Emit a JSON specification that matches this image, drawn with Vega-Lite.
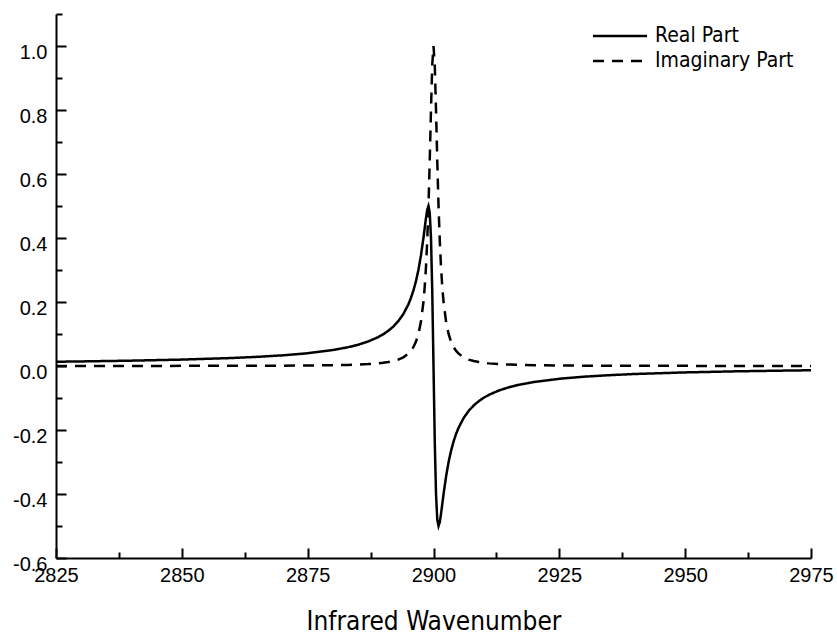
{
  "$schema": "https://vega.github.io/schema/vega-lite/v6.json",
  "width": 755,
  "height": 544,
  "autosize": {"type": "none"},
  "padding": {"left": 56, "top": 14, "right": 26, "bottom": 77},
  "background": "white",
  "config": {"view": {"stroke": null}},
  "data": {
    "values": [
      {"x": 2825, "re": 0.0133, "im": 0.0002},
      {"x": 2830, "re": 0.0143, "im": 0.0002},
      {"x": 2840, "re": 0.0167, "im": 0.0003},
      {"x": 2850, "re": 0.0200, "im": 0.0004},
      {"x": 2860, "re": 0.0250, "im": 0.0006},
      {"x": 2865, "re": 0.0286, "im": 0.0008},
      {"x": 2870, "re": 0.0333, "im": 0.0011},
      {"x": 2875, "re": 0.0399, "im": 0.0016},
      {"x": 2880, "re": 0.0499, "im": 0.0025},
      {"x": 2883, "re": 0.0586, "im": 0.0034},
      {"x": 2885, "re": 0.0664, "im": 0.0044},
      {"x": 2887, "re": 0.0765, "im": 0.0059},
      {"x": 2889, "re": 0.0902, "im": 0.0082},
      {"x": 2890, "re": 0.0990, "im": 0.0099},
      {"x": 2891, "re": 0.1098, "im": 0.0122},
      {"x": 2892, "re": 0.1231, "im": 0.0154},
      {"x": 2893, "re": 0.1400, "im": 0.0200},
      {"x": 2894, "re": 0.1622, "im": 0.0270},
      {"x": 2895, "re": 0.1923, "im": 0.0385},
      {"x": 2895.5, "re": 0.2118, "im": 0.0471},
      {"x": 2896, "re": 0.2353, "im": 0.0588},
      {"x": 2896.5, "re": 0.2642, "im": 0.0755},
      {"x": 2897, "re": 0.3000, "im": 0.1000},
      {"x": 2897.5, "re": 0.3448, "im": 0.1379},
      {"x": 2898, "re": 0.4000, "im": 0.2000},
      {"x": 2898.25, "re": 0.4308, "im": 0.2462},
      {"x": 2898.5, "re": 0.4615, "im": 0.3077},
      {"x": 2898.75, "re": 0.4878, "im": 0.3902},
      {"x": 2899, "re": 0.5000, "im": 0.5000},
      {"x": 2899.25, "re": 0.4800, "im": 0.6400},
      {"x": 2899.5, "re": 0.4000, "im": 0.8000},
      {"x": 2899.75, "re": 0.2353, "im": 0.9412},
      {"x": 2900, "re": 0.0, "im": 1.0},
      {"x": 2900.25, "re": -0.2353, "im": 0.9412},
      {"x": 2900.5, "re": -0.4000, "im": 0.8000},
      {"x": 2900.75, "re": -0.4800, "im": 0.6400},
      {"x": 2901, "re": -0.5000, "im": 0.5000},
      {"x": 2901.25, "re": -0.4878, "im": 0.3902},
      {"x": 2901.5, "re": -0.4615, "im": 0.3077},
      {"x": 2901.75, "re": -0.4308, "im": 0.2462},
      {"x": 2902, "re": -0.4000, "im": 0.2000},
      {"x": 2902.5, "re": -0.3448, "im": 0.1379},
      {"x": 2903, "re": -0.3000, "im": 0.1000},
      {"x": 2903.5, "re": -0.2642, "im": 0.0755},
      {"x": 2904, "re": -0.2353, "im": 0.0588},
      {"x": 2904.5, "re": -0.2118, "im": 0.0471},
      {"x": 2905, "re": -0.1923, "im": 0.0385},
      {"x": 2906, "re": -0.1622, "im": 0.0270},
      {"x": 2907, "re": -0.1400, "im": 0.0200},
      {"x": 2908, "re": -0.1231, "im": 0.0154},
      {"x": 2909, "re": -0.1098, "im": 0.0122},
      {"x": 2910, "re": -0.0990, "im": 0.0099},
      {"x": 2911, "re": -0.0902, "im": 0.0082},
      {"x": 2913, "re": -0.0765, "im": 0.0059},
      {"x": 2915, "re": -0.0664, "im": 0.0044},
      {"x": 2917, "re": -0.0586, "im": 0.0034},
      {"x": 2920, "re": -0.0499, "im": 0.0025},
      {"x": 2925, "re": -0.0399, "im": 0.0016},
      {"x": 2930, "re": -0.0333, "im": 0.0011},
      {"x": 2935, "re": -0.0286, "im": 0.0008},
      {"x": 2940, "re": -0.0250, "im": 0.0006},
      {"x": 2950, "re": -0.0200, "im": 0.0004},
      {"x": 2960, "re": -0.0167, "im": 0.0003},
      {"x": 2970, "re": -0.0143, "im": 0.0002},
      {"x": 2975, "re": -0.0133, "im": 0.0002}
    ]
  },
  "transform": [{"fold": ["re", "im"], "as": ["part", "value"]}],
  "mark": {"type": "line", "stroke": "black", "strokeWidth": 2.5, "interpolate": "linear", "clip": true},
  "encoding": {
    "x": {
      "field": "x",
      "type": "quantitative",
      "scale": {"domain": [2825, 2975], "nice": false, "zero": false},
      "axis": {
        "title": "Infrared Wavenumber",
        "titleFont": "'DejaVu Sans Condensed', 'DejaVu Sans'",
        "titleFontSize": 26,
        "titleFontWeight": "normal",
        "titleColor": "black",
        "titleBaseline": "alphabetic",
        "titleY": 71,
        "values": [2825, 2837.5, 2850, 2862.5, 2875, 2887.5, 2900, 2912.5, 2925, 2937.5, 2950, 2962.5, 2975],
        "labelExpr": "datum.value % 25 == 0 ? format(datum.value, 'd') : ''",
        "labelFont": "Liberation Sans",
        "labelFontSize": 20,
        "labelColor": "black",
        "labelFlush": false,
        "labelOverlap": false,
        "labelPadding": 17.5,
        "tickSize": {"condition": {"test": "datum.value % 25 == 0", "value": -10}, "value": -6},
        "tickWidth": 2,
        "tickColor": "black",
        "domainColor": "black",
        "domainWidth": 2,
        "grid": false
      }
    },
    "y": {
      "field": "value",
      "type": "quantitative",
      "scale": {"domain": [-0.6, 1.1], "nice": false, "zero": false},
      "axis": {
        "title": null,
        "values": [-0.6, -0.5, -0.4, -0.3, -0.2, -0.1, 0, 0.1, 0.2, 0.3, 0.4, 0.5, 0.6, 0.7, 0.8, 0.9, 1.0, 1.1],
        "labelExpr": "(round(datum.value * 10) % 2 == 0 && datum.value < 1.05) ? replace(format(datum.value, '.1f'), '\u2212', '-') : ''",
        "labelFont": "Liberation Sans",
        "labelFontSize": 20,
        "labelColor": "black",
        "labelFlush": false,
        "labelOverlap": false,
        "labelPadding": 19,
        "labelOffset": 6,
        "tickSize": {"condition": {"test": "round(datum.value * 10) % 2 == 0", "value": -10}, "value": -6},
        "tickWidth": 2,
        "tickColor": "black",
        "domainColor": "black",
        "domainWidth": 2,
        "grid": false
      }
    },
    "strokeDash": {
      "field": "part",
      "type": "nominal",
      "scale": {"domain": ["re", "im"], "range": [[1, 0], [11, 8]]},
      "legend": {
        "orient": "none",
        "legendX": 535.5,
        "legendY": 9.5,
        "title": null,
        "padding": 0,
        "symbolType": "stroke",
        "symbolSize": 2916,
        "symbolStrokeWidth": 2.5,
        "symbolStrokeColor": "black",
        "clipHeight": 25,
        "rowPadding": 0,
        "labelOffset": 6.5,
        "labelFont": "'DejaVu Sans Condensed', 'DejaVu Sans'",
        "labelFontSize": 21,
        "labelColor": "black",
        "labelExpr": "datum.label == 're' ? 'Real Part' : 'Imaginary Part'"
      }
    }
  }
}
